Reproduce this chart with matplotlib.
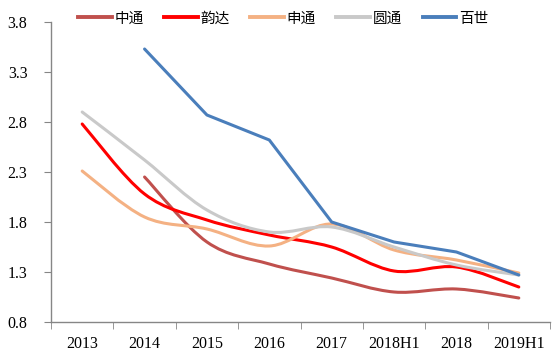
import matplotlib
matplotlib.use('Agg')
import matplotlib.pyplot as plt
from matplotlib.path import Path
from matplotlib.patches import PathPatch
from matplotlib.lines import Line2D
import numpy as np

plt.rcParams['font.family'] = ['Liberation Serif', 'Noto Sans CJK SC', 'DejaVu Sans']

categories = ['2013', '2014', '2015', '2016', '2017', '2018H1', '2018', '2019H1']
names = ['中通', '韵达', '申通', '圆通', '百世']
colors = ['#C0504D', '#FF0000', '#F4B183', '#C9C9C9', '#4A7EBB']

zto = [None, 2.25, 1.60, 1.38, 1.24, 1.10, 1.13, 1.04]
yunda = [2.78, 2.08, 1.82, 1.67, 1.55, 1.31, 1.35, 1.15]
sto = [2.31, 1.85, 1.73, 1.56, 1.78, 1.52, 1.42, 1.29]
yto = [2.90, 2.42, 1.92, 1.70, 1.75, 1.55, 1.37, 1.27]
best = [None, 3.53, 2.87, 2.62, 1.80, 1.60, 1.50, 1.27]
series = [zto, yunda, sto, yto, best]
smooth = [True, True, True, True, False]

yticks = [0.8, 1.3, 1.8, 2.3, 2.8, 3.3, 3.8]


def smooth_path(xs, ys):
    # Excel style smoothed line: Catmull-Rom segments as cubic beziers
    pts = np.column_stack([xs, ys])
    n = len(pts)
    verts = [pts[0]]
    codes = [Path.MOVETO]
    for i in range(n - 1):
        p0 = pts[i - 1] if i > 0 else pts[i]
        p1 = pts[i]
        p2 = pts[i + 1]
        p3 = pts[i + 2] if i + 2 < n else pts[i + 1]
        verts += [p1 + (p2 - p0) / 6, p2 - (p3 - p1) / 6, p2]
        codes += [Path.CURVE4] * 3
    return Path(verts, codes)


fig = plt.figure(figsize=(5.58, 3.56), dpi=100)
ax = fig.add_axes([51 / 558, 1 - 322 / 356, 499 / 558, 300 / 356])

x = np.arange(len(categories))
handles = []
for vals, name, c, sm in zip(series, names, colors, smooth):
    idx = [i for i, v in enumerate(vals) if v is not None]
    xs = x[idx].astype(float)
    ys = np.array([vals[i] for i in idx])
    if sm:
        ax.add_patch(PathPatch(smooth_path(xs, ys), fill=False, edgecolor=c, lw=2.2,
                               capstyle='round', joinstyle='round'))
    else:
        ax.plot(xs, ys, color=c, lw=2.2, solid_joinstyle='round', solid_capstyle='round')
    handles.append(Line2D([], [], color=c, lw=2.8, label=name))

ax.set_xlim(-0.5, len(categories) - 0.5)
ax.set_ylim(0.8, 3.8)
ax.set_yticks(yticks)
ax.set_yticklabels(['%.1f' % v for v in yticks], fontsize=11.5)
ax.set_xticks(x)
ax.set_xticklabels(categories, fontsize=11.5)
ax.set_xticks(np.arange(-0.5, len(categories)), minor=True)
ax.tick_params(axis='x', which='major', length=0, pad=10)
ax.tick_params(axis='x', which='minor', length=5, color='#868686', direction='out')
ax.tick_params(axis='y', length=5, color='#868686', direction='out', pad=12)
for s in ['top', 'right']:
    ax.spines[s].set_visible(False)
for s in ['left', 'bottom']:
    ax.spines[s].set_color('#868686')
    ax.spines[s].set_linewidth(1)

fig.legend(handles=handles, loc='center left', bbox_to_anchor=(78 / 558, 1 - 18.6 / 356),
           ncol=5, frameon=False, prop={'family': 'Noto Sans CJK SC', 'size': 10.5},
           handlelength=2.3, handletextpad=0.2, columnspacing=1.4, borderpad=0,
           borderaxespad=0)

fig.savefig('out.png', dpi=100)
